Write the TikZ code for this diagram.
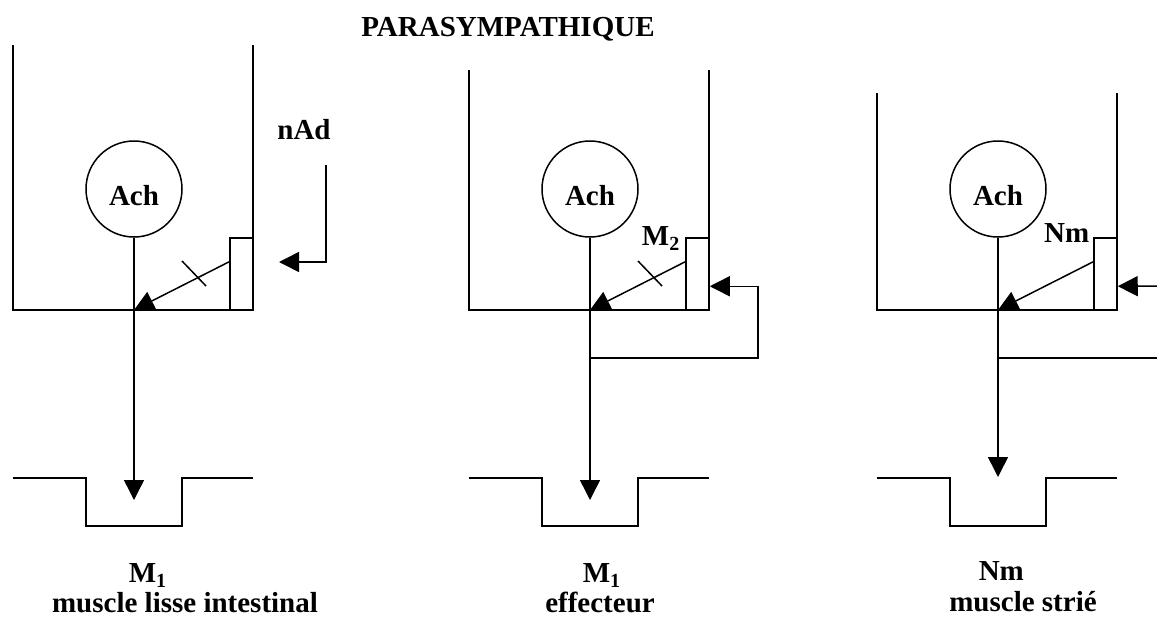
\documentclass[tikz,border=0pt]{standalone}
\usepackage{fontspec}
\setmainfont{Liberation Serif}
\usetikzlibrary{arrows.meta,calc}
\newcommand{\subidx}[1]{\raisebox{-5pt}{\fontsize{20}{20}\selectfont #1}}
\tikzset{
  txt/.style={inner sep=0pt, font=\bfseries\fontsize{29}{34}\selectfont},
  circ/.style={draw, circle, minimum size=96pt, inner sep=0pt},
  rec/.style={draw, rectangle, minimum width=23pt, minimum height=72pt, inner sep=0pt},
  fl/.style={-{Triangle[length=20pt,width=20pt]}}
}
\begin{document}
\begin{tikzpicture}[x=1pt,y=-1pt,line width=1.5pt]
  \useasboundingbox (0,0) rectangle (1157,616);
  \node[txt, anchor=base] (titre) at (508,36) {PARASYMPATHIQUE};
  % muscle lisse intestinal
  \begin{scope}
    \draw (13,45) -- (13,310) -- (253,310) -- (253,45);
    \node[circ] (ach1) at (134,189) {};
    \node[txt] (lach1) at ([yshift=-7pt]ach1.center) {Ach};
    \node[rec] (rec1) at (241.5,274) {};
    \coordinate (j1) at (134,310);
    \coordinate (t1) at (134,500);
    \draw[fl] (ach1.south) -- (t1);
    \draw[fl] ($(rec1.north west)!1/3!(rec1.south west)$) -- (j1);
    \draw (182,261) -- (206,286);
    \node[txt] (nad) at (304,130) {nAd};
    \coordinate (n1) at (326,165);
    \coordinate (n2) at (279,262);
    \draw[fl] (n1) |- (n2);
    \draw (13,478) -- (86,478) -- (86,526) -- (182,526) -- (182,478) -- (253,478);
    \node[txt, anchor=base west] (m1) at (128,582) {M\subidx{1}};
    \node[txt, anchor=base] (mus1) at (185,612) {muscle lisse intestinal};
  \end{scope}
  % effecteur
  \begin{scope}[shift={(456,0)}]
    \draw (13,70) -- (13,310) -- (253,310) -- (253,70);
    \node[circ] (ach2) at (134,189) {};
    \node[txt] (lach2) at ([yshift=-7pt]ach2.center) {Ach};
    \node[rec] (rec2) at (241.5,274) {};
    \coordinate (j2) at (134,310);
    \coordinate (t2) at (134,500);
    \coordinate (b2) at (134,358);
    \draw[fl] (ach2.south) -- (t2);
    \draw[fl] ($(rec2.north west)!1/3!(rec2.south west)$) -- (j2);
    \draw (182,261) -- (206,286);
    \node[txt, anchor=base east] (m2) at (224,245) {M\subidx{2}};
    \draw[fl] (b2) -- (302,358) |- ($(rec2.north east)!2/3!(rec2.south east)$);
    \draw (13,478) -- (86,478) -- (86,526) -- (182,526) -- (182,478) -- (253,478);
    \node[txt, anchor=base west] (m3) at (126,582) {M\subidx{1}};
    \node[txt, anchor=base] (eff) at (144,612) {effecteur};
  \end{scope}
  % muscle strie
  \begin{scope}[shift={(864,0)}]
    \draw (13,93) -- (13,310) -- (253,310) -- (253,93);
    \node[circ] (ach3) at (134,189) {};
    \node[txt] (lach3) at ([yshift=-7pt]ach3.center) {Ach};
    \node[rec] (rec3) at (241.5,274) {};
    \coordinate (j3) at (134,310);
    \coordinate (t3) at (134,477);
    \coordinate (b3) at (134,358);
    \coordinate (e3) at (293,358);
    \coordinate (s3) at (293,286);
    \draw[fl] (ach3.south) -- (t3);
    \draw[fl] ($(rec3.north west)!1/3!(rec3.south west)$) -- (j3);
    \node[txt, anchor=base east] (nm) at (226,242) {Nm};
    \draw[fl] (s3) -- ($(rec3.north east)!2/3!(rec3.south east)$);
    \draw (b3) -- (e3);
    \draw (13,478) -- (86,478) -- (86,526) -- (182,526) -- (182,478) -- (253,478);
    \node[txt, anchor=base west] (nm2) at (114,580) {Nm};
    \node[txt, anchor=base] (stri) at (159,611) {muscle strié};
  \end{scope}
\end{tikzpicture}
\end{document}
